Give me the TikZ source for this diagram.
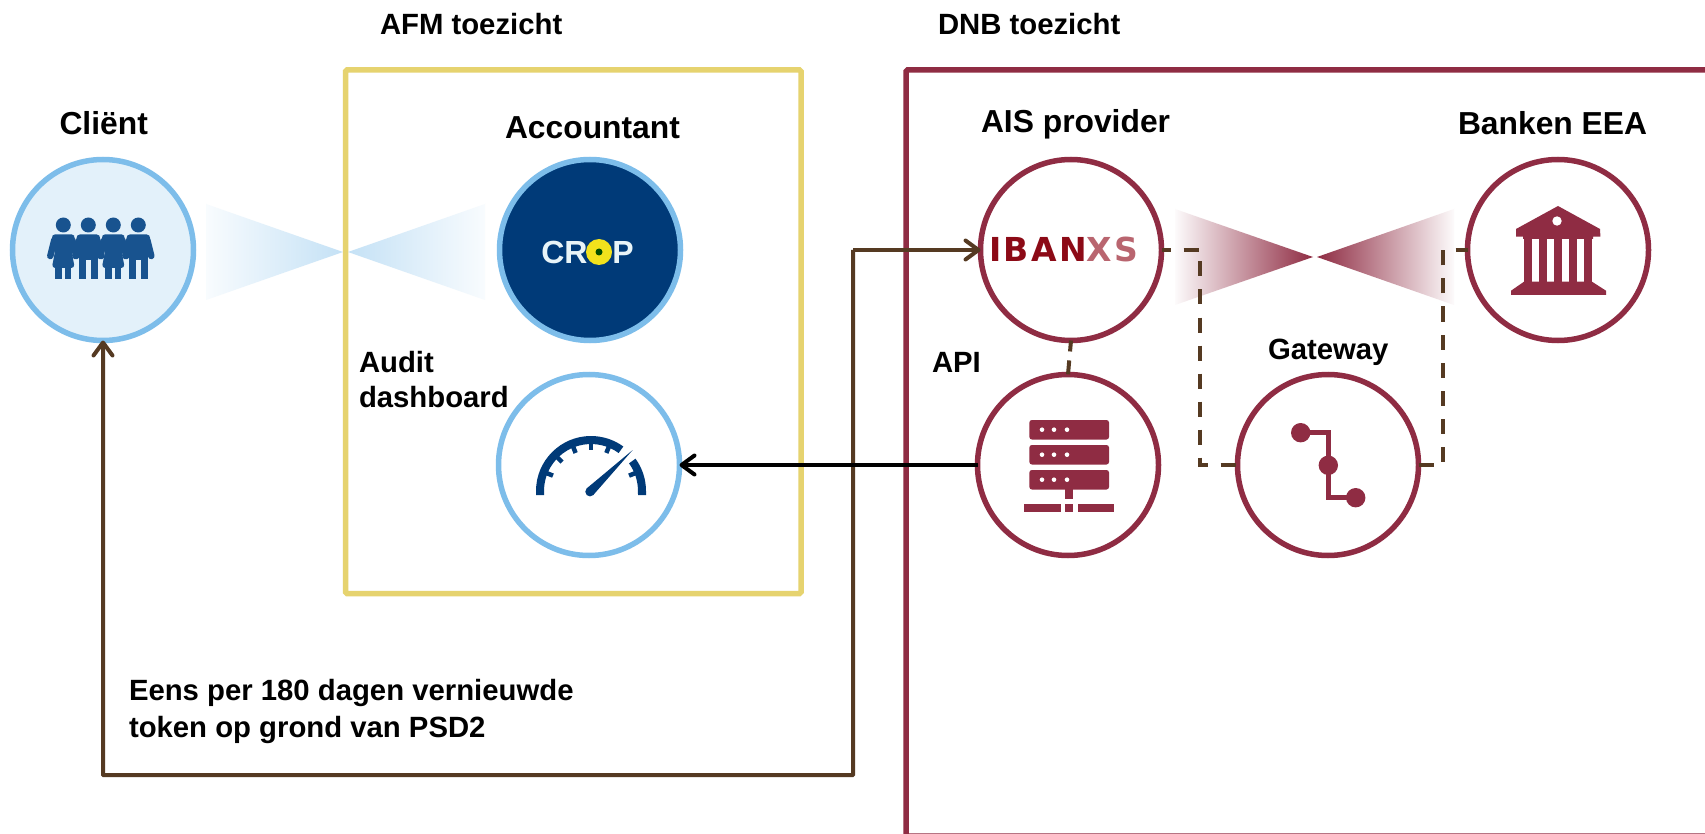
\documentclass[tikz,border=0pt]{standalone}
\usepackage{fontspec}
\setmainfont{Liberation Sans}
\newfontfamily\ibanfont[LetterSpace=7]{DejaVu Sans}
\usetikzlibrary{arrows.meta}
\definecolor{skyb}{HTML}{7DBDEA}
\definecolor{navyb}{HTML}{003A78}
\definecolor{peopleb}{HTML}{18538F}
\definecolor{paleb}{HTML}{E3F1FA}
\definecolor{wine}{HTML}{8F2C43}
\definecolor{afmy}{HTML}{E6D36F}
\definecolor{brownl}{HTML}{553A22}
\definecolor{ibanred}{HTML}{8C0A16}
\definecolor{ibanpale}{HTML}{B9656F}
\definecolor{cropy}{HTML}{F2E21C}
\definecolor{cropw}{HTML}{E8F4F8}
\tikzset{
  x=1pt,y=-1pt,
  circ/.style={circle,minimum size=181pt,inner sep=0pt,outer sep=0pt,line width=5.5pt,fill=white},
  bluec/.style={circ,draw=skyb},
  winec/.style={circ,draw=wine},
  big/.style={anchor=base west,inner sep=0pt,outer sep=0pt,font=\fontsize{31.8}{38}\selectfont\bfseries},
  small/.style={anchor=base west,inner sep=0pt,outer sep=0pt,font=\fontsize{29.3}{35.5}\selectfont\bfseries},
  brownline/.style={draw=brownl,line width=4pt},
  dashline/.style={draw=brownl,line width=4pt,dash pattern=on 15pt off 13pt},
  barb/.style={-{Straight Barb[length=13pt,width=19pt,round]}},
}
\begin{document}
\begin{tikzpicture}
\useasboundingbox (0,0) rectangle (1705,834);
\clip (0,0) rectangle (1705,834);
\fill[white] (0,0) rectangle (1705,834);
% gradient wedges
\shade[left color=white!95!skyb,right color=skyb!45!white] (206,204) -- (343,252) -- (206,300) -- cycle;
\shade[left color=skyb!45!white,right color=white!95!skyb] (348,252) -- (485,204) -- (485,300) -- cycle;
\shade[left color=wine!2!white,right color=wine] (1175,209) -- (1313,257) -- (1175,305) -- cycle;
\shade[left color=wine,right color=wine!2!white] (1317,257) -- (1454,209) -- (1454,305) -- cycle;
% supervision frames
\draw[afmy,line width=5.5pt,rounded corners=1.5pt] (345.5,70) rectangle (801,593.5);
\draw[wine,line width=5.5pt,rounded corners=1.5pt] (906,70) rectangle (1720,836);
% circles
\node[bluec,fill=paleb] (client) at (103,250) {};
\node[bluec,fill=navyb] (acc) at (590,250) {};
\node[bluec] (dash) at (589,465) {};
\node[winec] (ais) at (1071,250) {};
\node[winec] (api) at (1068,465) {};
\node[winec] (gate) at (1328,465) {};
\node[winec] (bank) at (1558,250) {};
% connectors
\coordinate (c1) at (853,250);
\coordinate (c2) at (853,775);
\coordinate (c3) at (103,775);
\draw[brownline,barb,rounded corners=0.5pt] (c1) -- (c2) -- (c3) -- (client.south);
\draw[brownline,barb] (c1) -- (ais.west);
\draw[line width=4pt,black,barb] (api.west) -- (dash.east);
\coordinate (d1) at (1200,250);
\coordinate (d2) at (1200,465);
\coordinate (d3) at (1443,465);
\coordinate (d4) at (1443,250);
\draw[dashline,dash phase=6pt] (ais.east) -- (d1) -- (d2) -- (gate.west);
\draw[dashline] (gate.east) -- (d3) -- (d4) -- (bank.west);
\draw[brownl,line width=4pt,dash pattern=on 11pt off 9pt on 14pt off 9pt] (ais.south) -- (api.north);
% people icon
\foreach \px in {63.3,113.3}{
  \fill[peopleb] (\px,225) circle (7.5);
  \fill[peopleb,rounded corners=3.5pt] (\px-12,234.5) -- (\px+12,234.5) -- (\px+8,250) -- (\px+11.5,268) -- (\px-11.5,268) -- (\px-8,250) -- cycle;
  \fill[peopleb] (\px-8,266) rectangle (\px-1.5,279);
  \fill[peopleb] (\px+1.5,266) rectangle (\px+8,279);
}
\foreach \px in {88.3,138.3}{
  \fill[peopleb] (\px,225) circle (7.5);
  \fill[peopleb,rounded corners=3.5pt] (\px-12,234.5) -- (\px+12,234.5) -- (\px+10,260) -- (\px-10,260) -- cycle;
  \fill[peopleb] (\px-9.5,255) rectangle (\px-2.5,279);
  \fill[peopleb] (\px+2.5,255) rectangle (\px+9.5,279);
}
\foreach \px in {63.3,88.3,113.3,138.3}{
  \draw[peopleb,line width=6.5pt,line cap=round] (\px-9,240) -- (\px-13,256);
  \draw[peopleb,line width=6.5pt,line cap=round] (\px+9,240) -- (\px+13,256);
}
% gauge icon
\fill[navyb] (536,495) -- (536,491) arc[start angle=-180,end angle=-54,radius=55] -- ++(-4.7,6.5) arc[start angle=-54,end angle=-180,radius=47] -- (544,495) -- cycle;
\fill[navyb] (646,495) -- (646,491) arc[start angle=0,end angle=-36,radius=55] -- ++(-6.5,4.7) arc[start angle=-36,end angle=0,radius=47] -- (638,495) -- cycle;
\foreach \a in {22,68,90,112,135,158}{
  \draw[navyb,line width=4.5pt] ({591+48*cos(\a)},{491-48*sin(\a)}) -- ({591+41*cos(\a)},{491-41*sin(\a)});
}
\fill[navyb] (632.7,450) -- (586.7,488.4) -- (593.3,495) -- cycle;
\fill[navyb] (590,491.7) circle (4.7);
% crop logo text
\fill[cropy] (599,252) circle (13);
\fill[black!70!green] (599,252) circle (3.5);
\node[inner sep=0pt,font=\fontsize{32}{38}\selectfont\bfseries,text=cropw] (crop) at (587.5,252) {CR\textcolor{cropy}{O}P};
% ibanxs logo text
\node[inner sep=0pt,anchor=base west,font=\fontsize{33}{38}\selectfont\ibanfont\bfseries] (iban) at (989,262) {\textcolor{ibanred}{IBAN}\textcolor{ibanpale}{XS}};
% server icon
\foreach \by in {420,445,470}{
  \fill[wine,rounded corners=2.5pt] (1029.4,\by) rectangle (1109,\by+19.5);
  \foreach \dx in {1042,1054,1067}{\fill[white] (\dx,\by+9.7) circle (2.3);}
}
\fill[wine] (1065.4,489) rectangle (1073,499);
\fill[wine] (1024,504.3) rectangle (1061,511.7);
\fill[wine] (1065.4,504.3) rectangle (1073,511.7);
\fill[wine] (1078.4,504.3) rectangle (1114,511.7);
% gateway icon
\draw[wine,line width=5pt] (1300.7,432.7) -- (1328.3,432.7) -- (1328.3,497.7) -- (1355.7,497.7);
\fill[wine] (1300.7,432.7) circle (9.7);
\fill[wine] (1328.3,465.3) circle (9.7);
\fill[wine] (1355.7,497.7) circle (9.7);
% bank icon
\fill[wine] (1558,206) -- (1600,229) -- (1600.4,236.7) -- (1593,236.7) -- (1593,239) -- (1523,239) -- (1523,236.7) -- (1516,236.7) -- (1516,229) -- cycle;
\fill[white] (1557,221) circle (4.7);
\foreach \cx in {1524.4,1539,1554,1569,1584}{\fill[wine] (\cx,238) rectangle (\cx+7.6,282);}
\fill[wine] (1524,281.7) -- (1592,281.7) -- (1606,290.7) -- (1606,295) -- (1511,295) -- (1511,290.7) -- cycle;
% labels
\node[small] (afm) at (380,35) {AFM toezicht};
\node[small] (dnb) at (938,35) {DNB toezicht};
\node[big] (lclient) at (59.5,135) {Cliënt};
\node[big] (lacc) at (505,139) {Accountant};
\node[big] (lais) at (981,133) {AIS provider};
\node[big] (lbank) at (1458,135) {Banken EEA};
\node[small] (lgate) at (1268,359) {Gateway};
\node[small] (lapi) at (932,372) {API};
\node[small] (laudit) at (359,372) {Audit};
\node[small] (ldash) at (359,407) {dashboard};
\node[small] (leens) at (129,700) {Eens per 180 dagen vernieuwde};
\node[small] (ltoken) at (129,737) {token op grond van PSD2};
\end{tikzpicture}
\end{document}
